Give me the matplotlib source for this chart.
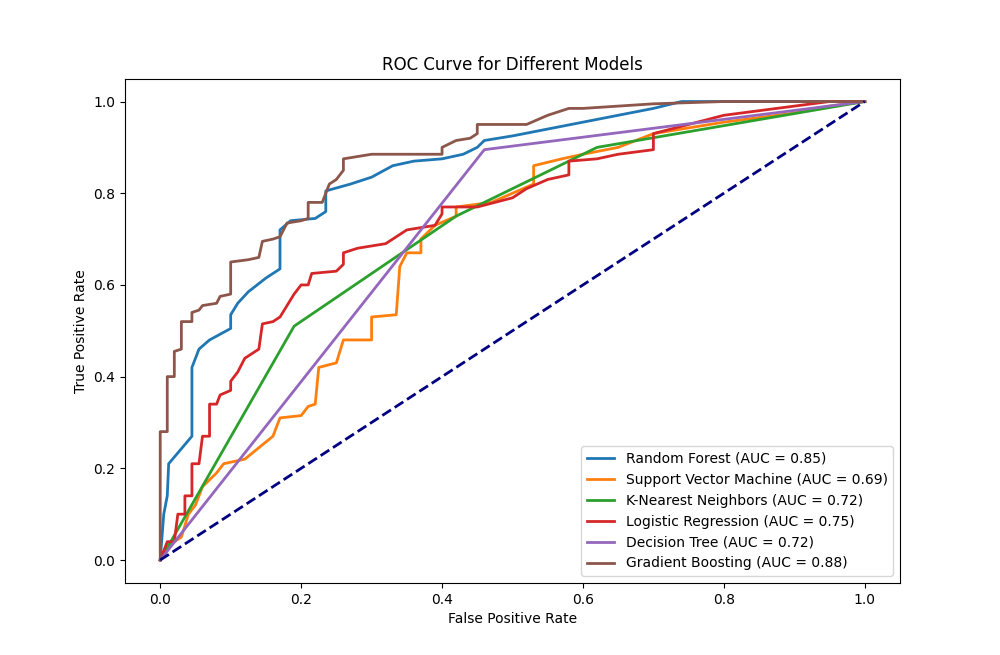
import matplotlib
matplotlib.use("Agg")
import matplotlib.pyplot as plt

model_names = ["Random Forest", "Support Vector Machine", "K-Nearest Neighbors",
               "Logistic Regression", "Decision Tree", "Gradient Boosting"]
auc_values = [0.85, 0.69, 0.72, 0.75, 0.72, 0.88]

rf_fpr = [0, 0.005, 0.01, 0.012, 0.045, 0.045, 0.055, 0.07, 0.1, 0.1, 0.11, 0.125, 0.15, 0.17, 0.17,
          0.185, 0.22, 0.235, 0.235, 0.27, 0.3, 0.33, 0.36, 0.4, 0.43, 0.45, 0.46, 0.5, 0.55, 0.6,
          0.65, 0.7, 0.74, 1]
rf_tpr = [0, 0.1, 0.14, 0.21, 0.27, 0.42, 0.46, 0.48, 0.505, 0.535, 0.56, 0.585, 0.615, 0.635, 0.72,
          0.74, 0.745, 0.76, 0.805, 0.82, 0.835, 0.86, 0.87, 0.875, 0.885, 0.9, 0.915, 0.925, 0.94,
          0.955, 0.97, 0.985, 1.0, 1]

svm_fpr = [0, 0.01, 0.03, 0.04, 0.05, 0.06, 0.08, 0.09, 0.12, 0.14, 0.16, 0.17, 0.2, 0.21, 0.22,
           0.225, 0.25, 0.26, 0.3, 0.3, 0.335, 0.34, 0.35, 0.37, 0.37, 0.39, 0.42, 0.42, 0.47, 0.5,
           0.53, 0.53, 0.57, 0.6, 0.65, 0.7, 0.8, 0.9, 0.95, 1]
svm_tpr = [0, 0.03, 0.05, 0.1, 0.12, 0.16, 0.19, 0.21, 0.22, 0.245, 0.27, 0.31, 0.315, 0.335, 0.34,
           0.42, 0.43, 0.48, 0.48, 0.53, 0.535, 0.64, 0.67, 0.67, 0.7, 0.73, 0.75, 0.77, 0.78, 0.8,
           0.82, 0.86, 0.875, 0.885, 0.9, 0.93, 0.955, 0.975, 0.99, 1]

knn_fpr = [0, 0.19, 0.42, 0.62, 1]
knn_tpr = [0, 0.51, 0.75, 0.9, 1]

lr_fpr = [0, 0.01, 0.02, 0.025, 0.035, 0.035, 0.045, 0.045, 0.055, 0.06, 0.07, 0.07, 0.08, 0.085,
          0.1, 0.1, 0.11, 0.12, 0.14, 0.145, 0.16, 0.17, 0.18, 0.19, 0.2, 0.21, 0.215, 0.25, 0.26,
          0.26, 0.28, 0.32, 0.33, 0.35, 0.39, 0.4, 0.4, 0.45, 0.5, 0.52, 0.55, 0.58, 0.58, 0.62,
          0.65, 0.7, 0.7, 0.75, 0.8, 0.85, 0.9, 0.95, 1]
lr_tpr = [0, 0.04, 0.04, 0.1, 0.1, 0.14, 0.14, 0.21, 0.21, 0.27, 0.27, 0.34, 0.34, 0.36, 0.37,
          0.39, 0.41, 0.44, 0.46, 0.515, 0.52, 0.53, 0.555, 0.58, 0.6, 0.6, 0.625, 0.63, 0.645,
          0.67, 0.68, 0.69, 0.7, 0.72, 0.73, 0.755, 0.77, 0.77, 0.79, 0.81, 0.83, 0.84, 0.87, 0.875,
          0.885, 0.895, 0.93, 0.95, 0.97, 0.98, 0.99, 1.0, 1]

dt_fpr = [0, 0.46, 1]
dt_tpr = [0, 0.895, 1]

gb_fpr = [0, 0, 0.01, 0.01, 0.02, 0.02, 0.03, 0.03, 0.045, 0.045, 0.055, 0.06, 0.08, 0.085, 0.1,
          0.1, 0.125, 0.14, 0.145, 0.16, 0.17, 0.18, 0.2, 0.21, 0.21, 0.23, 0.24, 0.25, 0.26, 0.26,
          0.28, 0.3, 0.4, 0.4, 0.42, 0.44, 0.45, 0.45, 0.52, 0.55, 0.58, 0.6, 0.65, 0.7, 0.8, 1]
gb_tpr = [0, 0.28, 0.28, 0.40, 0.40, 0.455, 0.46, 0.52, 0.52, 0.54, 0.545, 0.555, 0.56, 0.575,
          0.58, 0.65, 0.655, 0.66, 0.695, 0.7, 0.705, 0.735, 0.74, 0.745, 0.78, 0.78, 0.82, 0.83,
          0.85, 0.875, 0.88, 0.885, 0.885, 0.9, 0.915, 0.92, 0.93, 0.95, 0.95, 0.97, 0.985, 0.985,
          0.99, 0.995, 1.0, 1]

curves = [(rf_fpr, rf_tpr), (svm_fpr, svm_tpr), (knn_fpr, knn_tpr),
          (lr_fpr, lr_tpr), (dt_fpr, dt_tpr), (gb_fpr, gb_tpr)]

plt.figure(figsize=(10, 6.55))
for name, auc, (fpr, tpr) in zip(model_names, auc_values, curves):
    plt.plot(fpr, tpr, lw=2, label=f"{name} (AUC = {auc:.2f})")
plt.plot([0, 1], [0, 1], color="navy", lw=2, linestyle="--")
plt.xlabel("False Positive Rate")
plt.ylabel("True Positive Rate")
plt.title("ROC Curve for Different Models")
plt.legend(loc="lower right")
plt.savefig("out.png", dpi=100)
